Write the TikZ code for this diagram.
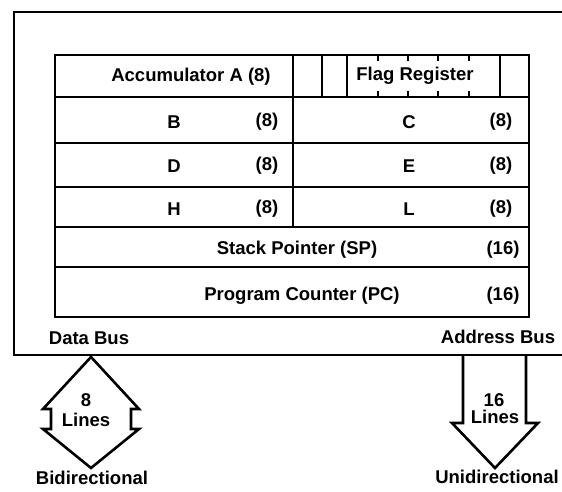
\documentclass[tikz,border=0pt]{standalone}
\usepackage{fontspec}
\setmainfont{Liberation Sans}
\begin{document}
\begin{tikzpicture}[x=1pt,y=-1pt,
  line/.style={line width=2.6pt, line cap=butt, line join=miter},
  tick/.style={line width=2pt},
  lbl/.style={font=\fontsize{18.5}{20}\selectfont\bfseries, inner sep=0pt, anchor=center},
]
\useasboundingbox (0,0) rectangle (562,491);
% outer box (its right side runs past the frame)
\draw[line] (562,12) -- (14,12) -- (14,355) -- (562,355);
% register table
\draw[line] (55,55) rectangle (529,317);
\foreach \y in {97,143,187,227,267} \draw[line] (55,\y) -- (529,\y);
\draw[line] (293,55) -- (293,227);
\foreach \x in {322,347,500} \draw[line] (\x,55) -- (\x,97);
\foreach \x in {378,408,438,469} {
  \draw[tick] (\x,55) -- (\x,61);
  \draw[tick] (\x,91) -- (\x,97);
}
% labels
\node[lbl] (acc) at (191,77) {Accumulator A (8)};
\node[lbl] (flag) at (415,76) {Flag Register};
\node[lbl] (b) at (174,122) {B};
\node[lbl] (b8) at (267,122) {(8)};
\node[lbl] (c) at (409,122) {C};
\node[lbl] (c8) at (501,122) {(8)};
\node[lbl] (d) at (174,166) {D};
\node[lbl] (d8) at (267,166) {(8)};
\node[lbl] (e) at (409,166) {E};
\node[lbl] (e8) at (501,166) {(8)};
\node[lbl] (h) at (174,209) {H};
\node[lbl] (h8) at (267,209) {(8)};
\node[lbl] (l) at (409,209) {L};
\node[lbl] (l8) at (501,209) {(8)};
\node[lbl] (sp) at (297,250) {Stack Pointer (SP)};
\node[lbl] (sp16) at (503,250) {(16)};
\node[lbl] (pc) at (302,296) {Program Counter (PC)};
\node[lbl] (pc16) at (503,296) {(16)};
\node[lbl] (dbus) at (89,338) {Data Bus};
\node[lbl] (abus) at (498,337) {Address Bus};
% bidirectional data bus arrow
\draw[line] (91,357) -- (139,409) -- (131,409) -- (131,429) -- (139,429)
  -- (91,468) -- (43,429) -- (51,429) -- (51,409) -- (43,409) -- cycle;
\node[lbl] (eight) at (86,400) {8};
\node[lbl] (lines1) at (86,420) {Lines};
\node[lbl] (bidir) at (92,478) {Bidirectional};
% unidirectional address bus arrow
\draw[line] (463,355) -- (463,423) -- (452,423) -- (495,468) -- (538,423)
  -- (526,423) -- (526,355);
\node[lbl] (sixteen) at (494,400) {16};
\node[lbl] (lines2) at (495,417) {Lines};
\node[lbl] (unidir) at (497,477) {Unidirectional};
\end{tikzpicture}
\end{document}
